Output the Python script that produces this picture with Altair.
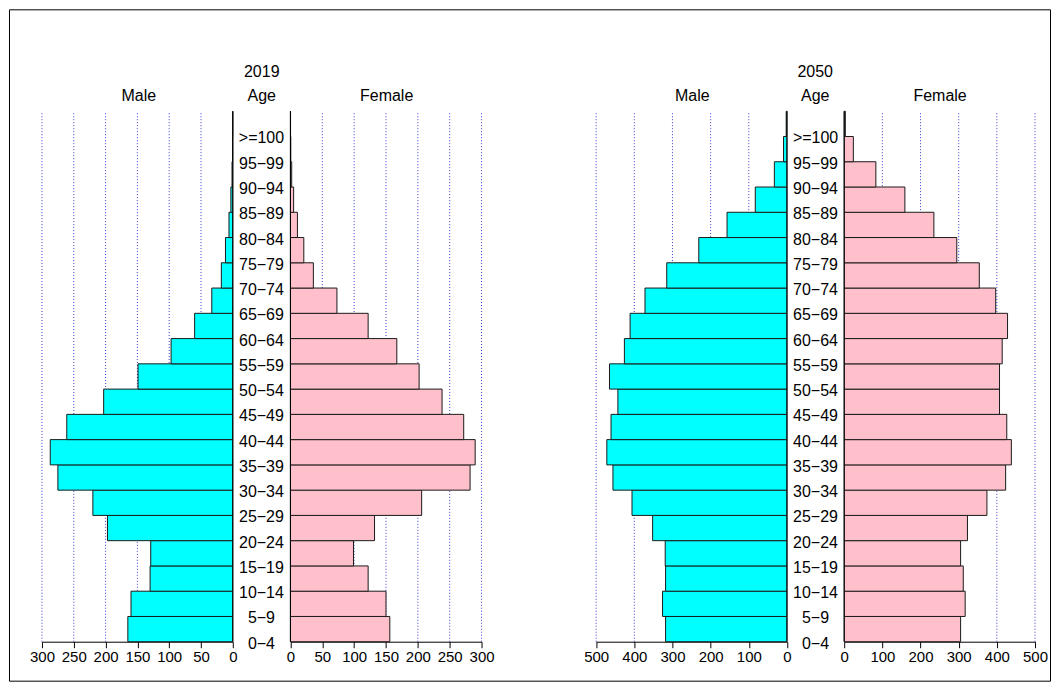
import altair as alt
import pandas as pd

# ---------------- data ----------------
AGE_GROUPS = ["0−4", "5−9", "10−14", "15−19", "20−24", "25−29", "30−34", "35−39",
              "40−44", "45−49", "50−54", "55−59", "60−64", "65−69", "70−74", "75−79",
              "80−84", "85−89", "90−94", "95−99", ">=100"]

MALE_2019 = [165, 160, 130, 129, 197, 220, 275, 287, 261, 203, 149, 97, 60, 33, 18, 11.5, 6, 3, 1.2, 0.3, 0.1]
FEMALE_2019 = [156, 150, 122, 99, 132, 206, 282, 290, 272, 238, 202, 167, 122, 73, 36, 21, 11, 5, 2, 0.6, 0.2]
MALE_2050 = [318, 326, 318, 319, 352, 406, 456, 472, 461, 443, 465, 426, 411, 372, 315, 231, 157, 83, 33, 9, 2]
FEMALE_2050 = [305, 317, 312, 305, 323, 374, 423, 438, 426, 407, 407, 414, 428, 397, 354, 295, 235, 159, 83, 24, 3]

TICKS_2019 = [0, 50, 100, 150, 200, 250, 300]
TICKS_2050 = [0, 100, 200, 300, 400, 500]
YEARS = ["2019", "2050"]
SIDE_TITLES = ["Male", "Age", "Female"]

# ---------------- style / layout ----------------
FONT = "Liberation Sans"
W, H = 1042, 672
N = len(AGE_GROUPS)
Y_SCALE = alt.Scale(domain=[0, N], range=[633, 102], nice=False, zero=False)
AXIS_OFFSET = -(H - 633)


def panel(values, ticks, rng, color):
    df = pd.DataFrame({"idx": list(range(N)), "value": values})
    xscale = alt.Scale(domain=[0, ticks[-1]], range=rng, nice=False, zero=False)
    axis = alt.Axis(orient="bottom", offset=AXIS_OFFSET, values=ticks, grid=False,
                    title=None, labelFont=FONT, labelFontSize=15, labelColor="black",
                    tickColor="black", domainColor="black", tickSize=6,
                    labelPadding=2, labelFlush=False, labelOverlap=False)
    grid = alt.Chart(pd.DataFrame({"tick": ticks[1:]})).mark_rule(
        color="#3a3ad0", strokeDash=[1, 2], strokeWidth=1
    ).encode(
        x=alt.X("tick:Q", scale=xscale, axis=axis),
        y=alt.Y(datum=0, type="quantitative", scale=Y_SCALE, axis=None),
        y2=alt.Y2(datum=N),
    )
    bars = alt.Chart(df).mark_rect(
        fill=color, stroke="#1a1a1a", strokeWidth=1
    ).transform_calculate(
        base="0", top="datum.idx + 1"
    ).encode(
        x=alt.X("value:Q", scale=xscale, axis=axis),
        x2=alt.X2("base:Q"),
        y=alt.Y("idx:Q", scale=Y_SCALE, axis=None),
        y2=alt.Y2("top:Q"),
    )
    zero = alt.Chart(alt.Data(values=[{}])).mark_rule(color="black", strokeWidth=1).encode(
        x=alt.X(datum=0, type="quantitative", scale=xscale, axis=axis),
        y=alt.Y(datum=0, type="quantitative", scale=Y_SCALE, axis=None),
        y2=alt.Y2(datum=N),
    )
    return alt.layer(grid, bars, zero)


def text(t, x, y, size=16):
    return alt.Chart(alt.Data(values=[{}])).mark_text(
        text=t, font=FONT, fontSize=size, color="black", align="center", baseline="middle"
    ).encode(x=alt.value(x), y=alt.value(y))


labels_df = pd.DataFrame({"idx": list(range(N)), "label": AGE_GROUPS})


def age_labels(xc):
    return alt.Chart(labels_df).mark_text(
        font=FONT, fontSize=16, color="black", align="center", baseline="middle", dy=2
    ).encode(
        x=alt.value(xc),
        y=alt.Y("idx:Q", scale=Y_SCALE, axis=None),
        text="label:N",
    )


p1 = panel(MALE_2019, TICKS_2019, [224, 33], "#00FFFF")
p2 = panel(FEMALE_2019, TICKS_2019, [281.7, 473], "#FFC0CB")
p3 = panel(MALE_2050, TICKS_2050, [778.7, 587.7], "#00FFFF")
p4 = panel(FEMALE_2050, TICKS_2050, [836, 1027], "#FFC0CB")

texts = [
    text(YEARS[0], 253, 63), text(YEARS[1], 807, 63),
    text(SIDE_TITLES[0], 130, 87), text(SIDE_TITLES[1], 253, 87), text(SIDE_TITLES[2], 378, 87),
    text(SIDE_TITLES[0], 684, 87), text(SIDE_TITLES[1], 807, 87), text(SIDE_TITLES[2], 932, 87),
    age_labels(252.7), age_labels(807.3),
]

chart = alt.layer(p1, p2, p3, p4, *texts).resolve_scale(
    x="independent"
).resolve_axis(
    x="independent"
).properties(
    width=W, height=H, padding=1,
    autosize=alt.AutoSizeParams(type="none"),
).configure_view(
    stroke="black", strokeWidth=1
)

chart.save("out.html", embed_options={"renderer": "svg", "actions": False})
